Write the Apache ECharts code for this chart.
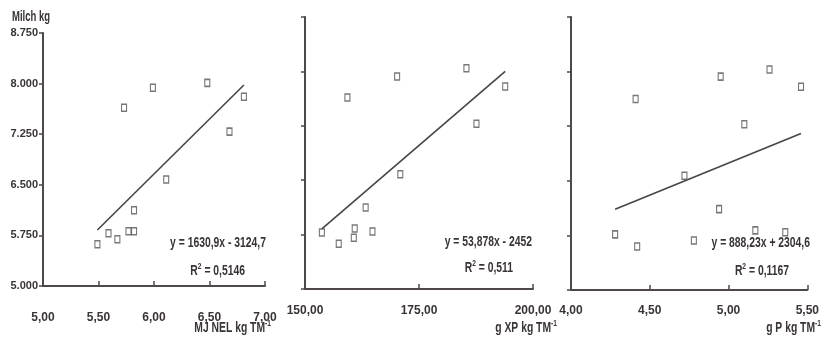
<!DOCTYPE html>
<html>
<head>
<meta charset="utf-8">
<title>Milch kg</title>
<script src="https://cdn.jsdelivr.net/npm/echarts@6/dist/echarts.min.js"></script>
<style>
	html, body { margin: 0; padding: 0; background: #fff; }
	#chart { width: 822px; height: 345px; }
</style>
</head>
<body>
<div id="chart"></div>
<script>
/* y-Achse (Milch kg) */
var yTicks = [5000, 5750, 6500, 7250, 8000, 8750];

/* MJ NEL kg TM-1 */
var nelTicks = [5.00, 5.50, 6.00, 6.50, 7.00];
var nelX = [5.49, 5.59, 5.67, 5.73, 5.77, 5.82, 5.82, 5.99, 6.11, 6.48, 6.68, 6.81];
var nelY = [5620, 5782, 5694, 7642, 5812, 5812, 6122, 7937, 6579, 8011, 7288, 7804];
var nelTrend = [[5.49, 5830], [6.81, 7980]];

/* g XP kg TM-1 */
var xpTicks = [150, 175, 200];
var xpX = [153.7, 157.4, 159.3, 160.7, 160.9, 163.3, 164.8, 170.2, 170.9, 185.4, 187.6, 193.9];
var xpY = [5778, 5625, 7639, 5708, 5833, 6125, 5792, 7931, 6583, 8042, 7278, 7792];
var xpTrend = [[153.7, 5830], [193.9, 8000]];

/* g P kg TM-1 */
var pTicks = [4.00, 4.50, 5.00, 5.50];
var pX = [4.28, 4.41, 4.42, 4.72, 4.78, 4.94, 4.95, 5.10, 5.17, 5.26, 5.36, 5.46];
var pY = [5764, 7625, 5597, 6570, 5681, 6111, 7931, 7278, 5819, 8028, 5792, 7792];
var pTrend = [[4.28, 6110], [5.46, 7150]];

var FONT = '"Liberation Sans", Arial, sans-serif';
var INK = '#4f4848';
var TXT = '#3a3434';

function pairs(xs, ys) {
	var out = [];
	for (var i = 0; i < xs.length; i++) out.push([xs[i], ys[i]]);
	return out;
}

function xAxisFor(idx, ticks, margin) {
	return {
		type: 'value',
		gridIndex: idx,
		min: ticks[0],
		max: ticks[ticks.length - 1],
		interval: ticks[1] - ticks[0],
		splitLine: { show: false },
		axisLine: { show: true, onZero: false, lineStyle: { color: INK, width: 2 } },
		axisTick: { show: true, inside: true, length: 5, lineStyle: { color: INK, width: 1.5 } },
		axisLabel: {
			show: true,
			margin: margin,
			fontFamily: FONT,
			fontWeight: 'bold',
			fontSize: 12,
			color: TXT,
			formatter: function(v) { return v.toFixed(2).replace('.', ','); }
		}
	};
}

function yAxisFor(idx, showLabels) {
	return {
		type: 'value',
		gridIndex: idx,
		min: yTicks[0],
		max: yTicks[yTicks.length - 1],
		interval: yTicks[1] - yTicks[0],
		splitLine: { show: false },
		axisLine: { show: true, onZero: false, lineStyle: { color: INK, width: 2 } },
		axisTick: { show: true, length: 4, lineStyle: { color: INK, width: 1.5 } },
		axisLabel: {
			show: showLabels,
			margin: 5,
			fontFamily: FONT,
			fontWeight: 'bold',
			fontSize: 11,
			color: TXT,
			formatter: function(v) { return String(v).replace(/(\d)(\d{3})$/, '$1.$2'); }
		}
	};
}

function points(idx, data) {
	return {
		type: 'scatter',
		xAxisIndex: idx,
		yAxisIndex: idx,
		symbol: 'rect',
		symbolSize: [5, 7],
		itemStyle: { color: '#fff', borderColor: '#555', borderWidth: 1.3 },
		data: data,
		z: 3
	};
}

function trend(idx, data) {
	return {
		type: 'line',
		xAxisIndex: idx,
		yAxisIndex: idx,
		symbol: 'none',
		lineStyle: { color: '#4a4444', width: 1.6 },
		data: data,
		z: 2
	};
}

/* Texte mit Hochstellung, schmal gestaucht wie im Original */
var rich = {
	n: { fontFamily: FONT, fontWeight: 'bold', fontSize: 14, color: TXT, lineHeight: 17 },
	s: { fontFamily: FONT, fontWeight: 'bold', fontSize: 9, color: TXT, verticalAlign: 'top', lineHeight: 17 }
};

function label(text, right, y) {
	return {
		type: 'text',
		x: right,
		y: y,
		scaleX: 0.74,
		style: { text: text, rich: rich, align: 'right', verticalAlign: 'middle', fill: TXT }
	};
}

window.onload = function() {
	var chart = echarts.init(document.getElementById('chart'));
	var option = {
		animation: false,
		backgroundColor: '#fff',
		grid: [
			{ left: 43, top: 33, width: 222, height: 253 },
			{ left: 305, top: 17, width: 228, height: 272 },
			{ left: 571, top: 17, width: 240, height: 273 }
		],
		xAxis: [
			xAxisFor(0, nelTicks, 26),
			xAxisFor(1, xpTicks, 16),
			xAxisFor(2, pTicks, 15)
		],
		yAxis: [
			yAxisFor(0, true),
			yAxisFor(1, false),
			yAxisFor(2, false)
		],
		series: [
			trend(0, nelTrend),
			points(0, pairs(nelX, nelY)),
			trend(1, xpTrend),
			points(1, pairs(xpX, xpY)),
			trend(2, pTrend),
			points(2, pairs(pX, pY))
		],
		graphic: [
			{
				type: 'text', x: 12, y: 17, scaleX: 0.68,
				style: { text: 'Milch kg', fontFamily: FONT, fontWeight: 'bold', fontSize: 14, fill: TXT, verticalAlign: 'middle' }
			},
			label('{n|MJ NEL kg TM}{s|-1}', 271, 328),
			label('{n|g XP kg TM}{s|-1}', 557, 328),
			label('{n|g P kg TM}{s|-1}', 821, 328),
			/* Regressionsgleichungen */
			label('{n|y = 1630,9x - 3124,7}', 266, 243),
			label('{n|R}{s|2}{n| = 0,5146}', 245, 271),
			label('{n|y = 53,878x - 2452}', 532, 242),
			label('{n|R}{s|2}{n| = 0,511}', 513, 268),
			label('{n|y = 888,23x + 2304,6}', 810, 243),
			label('{n|R}{s|2}{n| = 0,1167}', 789, 271)
		]
	};
	chart.setOption(option);
};
</script>
</body>
</html>
